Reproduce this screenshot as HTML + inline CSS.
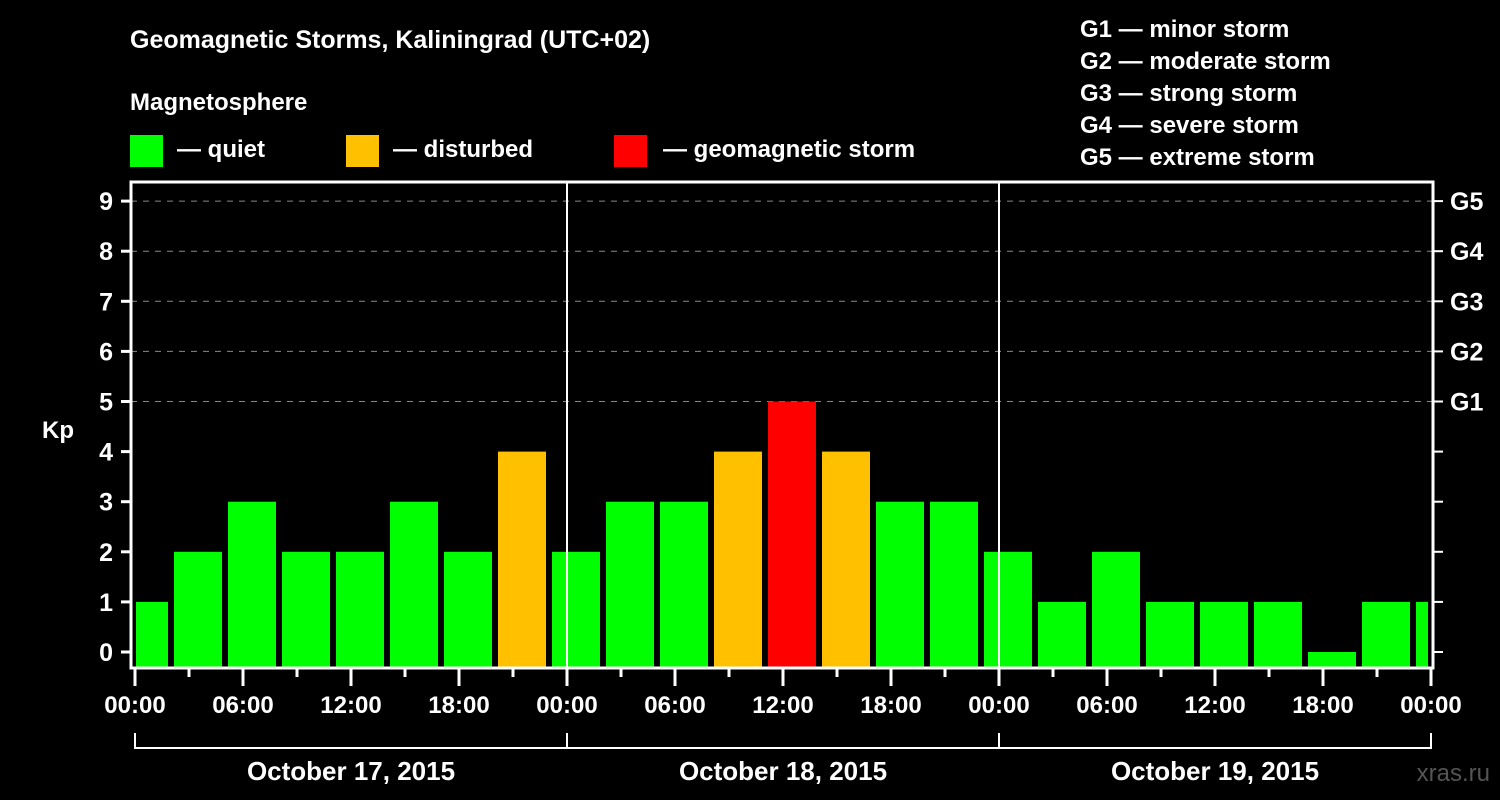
<!DOCTYPE html>
<html><head><meta charset="utf-8"><style>
html,body{margin:0;padding:0;background:#000;}
svg{display:block;font-family:"Liberation Sans",Arial,sans-serif;font-weight:bold;}
</style></head><body>
<svg id="c" width="1500" height="800" viewBox="0 0 1500 800">
<rect width="1500" height="800" fill="#000"/>
<text x="130" y="48" font-size="25" fill="#fff">Geomagnetic Storms, Kaliningrad (UTC+02)</text>
<text x="130" y="110" font-size="24" fill="#fff">Magnetosphere</text>
<g><rect x="130" y="135" width="33" height="32" fill="#00ff00"/><text x="177" y="157" font-size="24" fill="#fff">— quiet</text></g>
<g><rect x="346" y="135" width="33" height="32" fill="#ffc000"/><text x="393" y="157" font-size="24" fill="#fff">— disturbed</text></g>
<g><rect x="614" y="135" width="33" height="32" fill="#ff0000"/><text x="663" y="157" font-size="24" fill="#fff">— geomagnetic storm</text></g>
<g font-size="24" fill="#fff">
<text x="1080" y="37">G1 — minor storm</text>
<text x="1080" y="69">G2 — moderate storm</text>
<text x="1080" y="101">G3 — strong storm</text>
<text x="1080" y="133">G4 — severe storm</text>
<text x="1080" y="165">G5 — extreme storm</text>
</g>
<text x="42" y="438" font-size="24" fill="#fff">Kp</text>
<text x="1500" y="781" font-size="24" fill="#555" text-anchor="end" font-weight="normal" dx="-10">xras.ru</text>
<g id="grid"></g><g id="bars"></g><g id="axes"></g>
</svg>
<script>
const kpValues=[1,2,3,2,2,3,2,4,2,3,3,4,5,4,3,3,2,1,2,1,1,1,0,1,1];
const yTicks=[0,1,2,3,4,5,6,7,8,9];
const gLabels=["G1","G2","G3","G4","G5"];
const xLabels=["00:00","06:00","12:00","18:00","00:00","06:00","12:00","18:00","00:00","06:00","12:00","18:00","00:00"];
const dayLabels=["October 17, 2015","October 18, 2015","October 19, 2015"];
const NS="http://www.w3.org/2000/svg";
const L=131,R=1433,T=182,B=668,X0=135,hourPx=18;
const y=v=>652-v*50.1;
const x=h=>X0+h*hourPx;
function mk(tag,attrs,parent,txt){const e=document.createElementNS(NS,tag);for(const k in attrs)e.setAttribute(k,attrs[k]);if(txt!==undefined)e.textContent=txt;parent.appendChild(e);return e;}
const grid=document.getElementById('grid'),bars=document.getElementById('bars'),axes=document.getElementById('axes');
yTicks.forEach(v=>{if(v>=5){const g=mk('line',{x1:L,x2:R,y1:y(v),y2:y(v),stroke:'#888','stroke-dasharray':'6,6','stroke-width':1},grid);}});
kpValues.forEach((v,i)=>{
  let x1=x(i*3)-15,x2=x1+48;x1=Math.max(x1,136);x2=Math.min(x2,1428);
  const col=v>=5?'#ff0000':(v>=4?'#ffc000':'#00ff00');
  const r=mk('rect',{x:x1,y:y(v),width:x2-x1,height:B-y(v),fill:col},bars);
  
  
});
[1,2].forEach(d=>{const l=mk('line',{x1:x(d*24),x2:x(d*24),y1:T,y2:B,stroke:'#fff','stroke-width':2},axes);});
const fr=mk('rect',{x:L,y:T,width:R-L,height:B-T,fill:'none',stroke:'#fff','stroke-width':3},axes);

yTicks.forEach(v=>{
  mk('line',{x1:121,x2:L,y1:y(v),y2:y(v),stroke:'#fff','stroke-width':3},axes);
  mk('line',{x1:R,x2:1443,y1:y(v),y2:y(v),stroke:'#fff','stroke-width':2},axes);
  const t=mk('text',{x:113,y:y(v)+9,'font-size':25,fill:'#fff','text-anchor':'end'},axes,String(v));
  
  if(v>=5){const g=mk('text',{x:1450,y:y(v)+9,'font-size':25,fill:'#fff'},axes,gLabels[v-5]);}
});
for(let h=0;h<=72;h+=3){const major=h%6===0;mk('line',{x1:x(h),x2:x(h),y1:B,y2:B+(major?18:9),stroke:'#fff','stroke-width':3},axes);}
xLabels.forEach((s,i)=>{const t=mk('text',{x:x(i*6),y:713,'font-size':24,fill:'#fff','text-anchor':'middle'},axes,s);});
mk('line',{x1:x(0),x2:x(72),y1:748,y2:748,stroke:'#fff','stroke-width':2},axes);
for(let d=0;d<=3;d++)mk('line',{x1:x(d*24),x2:x(d*24),y1:733,y2:749,stroke:'#fff','stroke-width':2},axes);
dayLabels.forEach((s,i)=>{const t=mk('text',{x:x(i*24+12),y:780,'font-size':26,fill:'#fff','text-anchor':'middle'},axes,s);});
</script>
</body></html>
